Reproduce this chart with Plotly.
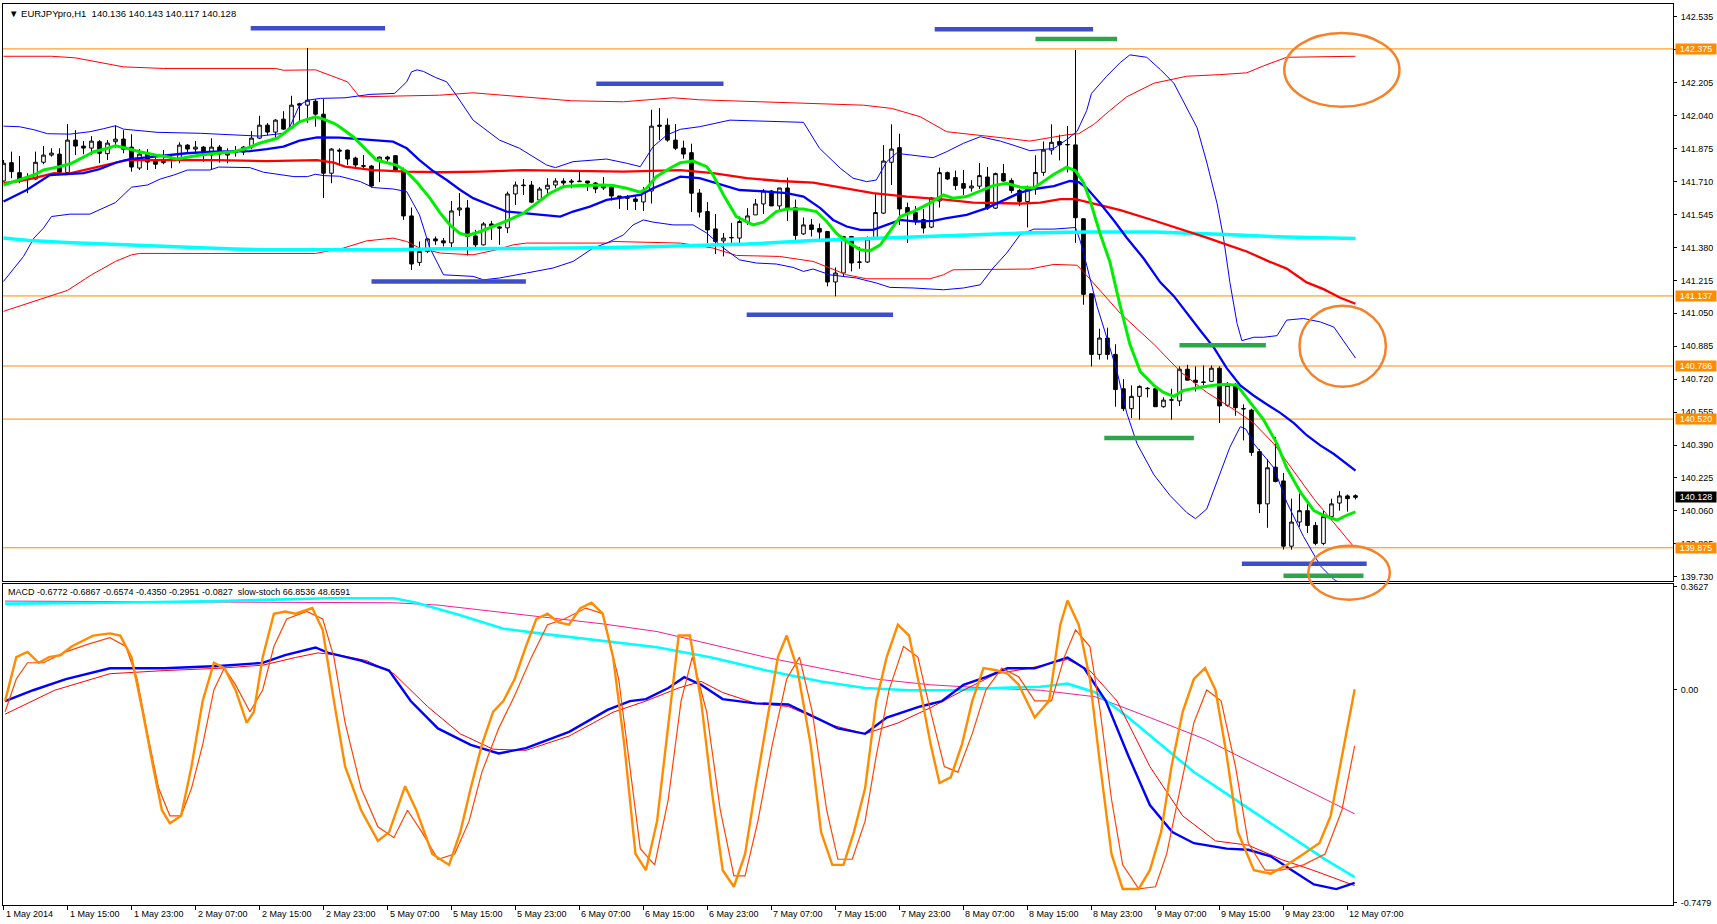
import plotly.graph_objects as go

# ---------------- data ----------------
time_labels = ["1 May 2014", "1 May 15:00", "1 May 23:00", "2 May 07:00", "2 May 15:00", "2 May 23:00",
               "5 May 07:00", "5 May 15:00", "5 May 23:00", "6 May 07:00", "6 May 15:00", "6 May 23:00",
               "7 May 07:00", "7 May 15:00", "7 May 23:00", "8 May 07:00", "8 May 15:00", "8 May 23:00",
               "9 May 07:00", "9 May 15:00", "9 May 23:00", "12 May 07:00"]
label_bars = list(range(0, 169, 8))

# OHLC per H1 bar (bar 0 = 1 May 07:00)
ohlc = [
    (141.713, 141.818, 141.710, 141.802), (141.805, 141.860, 141.727, 141.760), (141.755, 141.838, 141.702, 141.713),
    (141.727, 141.752, 141.652, 141.720), (141.723, 141.860, 141.718, 141.807), (141.807, 141.888, 141.797, 141.843),
    (141.843, 141.877, 141.835, 141.853), (141.848, 141.877, 141.752, 141.757), (141.755, 141.998, 141.748, 141.918),
    (141.918, 141.968, 141.843, 141.888), (141.888, 141.913, 141.847, 141.878), (141.878, 141.938, 141.843, 141.913),
    (141.910, 141.918, 141.802, 141.852), (141.850, 141.918, 141.818, 141.903), (141.910, 141.990, 141.880, 141.923),
    (141.923, 141.968, 141.852, 141.872), (141.883, 141.947, 141.760, 141.783), (141.778, 141.873, 141.768, 141.848),
    (141.848, 141.873, 141.768, 141.808), (141.812, 141.830, 141.773, 141.797), (141.805, 141.868, 141.797, 141.812),
    (141.823, 141.843, 141.777, 141.818), (141.823, 141.907, 141.802, 141.893), (141.893, 141.897, 141.852, 141.873),
    (141.873, 141.913, 141.852, 141.883), (141.883, 141.888, 141.810, 141.843), (141.843, 141.927, 141.768, 141.883),
    (141.883, 141.893, 141.805, 141.848), (141.843, 141.877, 141.802, 141.853), (141.855, 141.888, 141.835, 141.863),
    (141.858, 141.888, 141.843, 141.883), (141.883, 141.963, 141.873, 141.928), (141.928, 142.040, 141.923, 141.993),
    (141.993, 142.003, 141.943, 141.958), (141.958, 142.023, 141.923, 142.018), (142.023, 142.063, 141.968, 141.973),
    (141.978, 142.140, 141.973, 142.093), (142.100, 142.105, 142.010, 142.093), (142.093, 142.380, 142.005, 142.118),
    (142.113, 142.123, 141.985, 142.048), (142.048, 142.123, 141.627, 141.752), (141.752, 141.878, 141.702, 141.873),
    (141.868, 141.877, 141.790, 141.863), (141.868, 141.870, 141.793, 141.823), (141.828, 141.835, 141.773, 141.793),
    (141.790, 141.843, 141.773, 141.787), (141.788, 141.793, 141.680, 141.688), (141.813, 141.835, 141.707, 141.833),
    (141.833, 141.840, 141.810, 141.823), (141.840, 141.843, 141.763, 141.768), (141.768, 141.780, 141.518, 141.538),
    (141.538, 141.580, 141.267, 141.297), (141.305, 141.410, 141.288, 141.360), (141.360, 141.427, 141.352, 141.423),
    (141.423, 141.435, 141.393, 141.413), (141.413, 141.427, 141.385, 141.403), (141.403, 141.613, 141.368, 141.563),
    (141.568, 141.653, 141.538, 141.578), (141.578, 141.618, 141.340, 141.435), (141.438, 141.468, 141.382, 141.393),
    (141.393, 141.507, 141.390, 141.498), (141.498, 141.513, 141.418, 141.488), (141.483, 141.488, 141.393, 141.477),
    (141.478, 141.660, 141.452, 141.648), (141.648, 141.710, 141.593, 141.693), (141.693, 141.723, 141.643, 141.690),
    (141.693, 141.713, 141.602, 141.607), (141.618, 141.683, 141.613, 141.673), (141.673, 141.727, 141.643, 141.692),
    (141.693, 141.727, 141.677, 141.713), (141.713, 141.727, 141.677, 141.703), (141.713, 141.723, 141.677, 141.708),
    (141.713, 141.768, 141.710, 141.710), (141.713, 141.713, 141.663, 141.703), (141.703, 141.708, 141.652, 141.673),
    (141.678, 141.733, 141.668, 141.688), (141.683, 141.693, 141.615, 141.638), (141.638, 141.638, 141.573, 141.627),
    (141.630, 141.643, 141.568, 141.627), (141.623, 141.635, 141.568, 141.610), (141.608, 141.683, 141.563, 141.663),
    (141.663, 142.070, 141.600, 141.988), (141.993, 142.078, 141.918, 141.988), (141.993, 142.027, 141.910, 141.918),
    (141.918, 141.998, 141.868, 141.877), (141.878, 141.915, 141.825, 141.848), (141.855, 141.900, 141.557, 141.652),
    (141.653, 141.673, 141.530, 141.557), (141.560, 141.607, 141.402, 141.468), (141.473, 141.547, 141.347, 141.410),
    (141.413, 141.452, 141.335, 141.427), (141.428, 141.503, 141.402, 141.430), (141.427, 141.535, 141.402, 141.510),
    (141.507, 141.577, 141.493, 141.538), (141.543, 141.623, 141.543, 141.598), (141.598, 141.673, 141.548, 141.663),
    (141.663, 141.668, 141.588, 141.588), (141.588, 141.678, 141.563, 141.678), (141.678, 141.730, 141.513, 141.573),
    (141.580, 141.620, 141.410, 141.440), (141.448, 141.530, 141.443, 141.493), (141.493, 141.523, 141.435, 141.470),
    (141.475, 141.500, 141.410, 141.457), (141.460, 141.460, 141.185, 141.207), (141.207, 141.280, 141.135, 141.252),
    (141.252, 141.438, 141.235, 141.435), (141.435, 141.435, 141.260, 141.302), (141.305, 141.383, 141.273, 141.307),
    (141.307, 141.435, 141.302, 141.423), (141.423, 141.652, 141.418, 141.555), (141.552, 141.893, 141.547, 141.813),
    (141.807, 141.997, 141.693, 141.873), (141.880, 141.950, 141.493, 141.573), (141.580, 141.605, 141.402, 141.552),
    (141.555, 141.588, 141.493, 141.515), (141.520, 141.573, 141.450, 141.477), (141.482, 141.633, 141.477, 141.627),
    (141.613, 141.780, 141.580, 141.755), (141.755, 141.760, 141.718, 141.723), (141.730, 141.765, 141.668, 141.690),
    (141.700, 141.768, 141.643, 141.677), (141.678, 141.717, 141.660, 141.688), (141.687, 141.803, 141.673, 141.740),
    (141.733, 141.783, 141.568, 141.577), (141.577, 141.755, 141.573, 141.750), (141.750, 141.798, 141.710, 141.713),
    (141.715, 141.727, 141.652, 141.665), (141.665, 141.673, 141.587, 141.610), (141.610, 141.690, 141.480, 141.673),
    (141.673, 141.842, 141.644, 141.756), (141.756, 141.911, 141.739, 141.868), (141.868, 141.997, 141.845, 141.907),
    (141.911, 141.945, 141.816, 141.894), (141.894, 141.988, 141.756, 141.896), (141.894, 142.370, 141.403, 141.529),
    (141.524, 141.524, 141.093, 141.145), (141.148, 141.148, 140.784, 140.844), (140.844, 140.973, 140.818, 140.926),
    (140.926, 140.978, 140.818, 140.844), (140.844, 140.895, 140.582, 140.668), (140.672, 140.720, 140.560, 140.572),
    (140.572, 140.689, 140.525, 140.634), (140.634, 140.689, 140.517, 140.684), (140.672, 140.680, 140.629, 140.674),
    (140.672, 140.672, 140.582, 140.582), (140.582, 140.629, 140.577, 140.615), (140.617, 140.672, 140.517, 140.615),
    (140.611, 140.784, 140.586, 140.770), (140.770, 140.792, 140.715, 140.715), (140.715, 140.784, 140.658, 140.703),
    (140.706, 140.789, 140.689, 140.704), (140.709, 140.789, 140.706, 140.775), (140.775, 140.784, 140.500, 140.586),
    (140.589, 140.706, 140.582, 140.689), (140.694, 140.700, 140.537, 140.577), (140.573, 140.594, 140.413, 140.571),
    (140.565, 140.572, 140.336, 140.353), (140.357, 140.370, 140.049, 140.095), (140.095, 140.319, 139.975, 140.276),
    (140.279, 140.431, 140.203, 140.207), (140.210, 140.250, 139.866, 139.883), (139.883, 140.121, 139.866, 140.004),
    (140.004, 140.147, 139.980, 140.061), (140.061, 140.112, 139.949, 139.987), (139.987, 140.004, 139.888, 139.897),
    (139.897, 140.061, 139.888, 140.031), (140.031, 140.121, 140.014, 140.095), (140.099, 140.159, 140.061, 140.135),
    (140.135, 140.142, 140.056, 140.121), (140.136, 140.143, 140.117, 140.128),
]

# indicator lines: (bar, value)
green_ma = [(0,141.693),(2,141.718),(3.8,141.743),(5,141.768),(7,141.785),(8.5,141.802),(10,141.835),(11.3,141.86),(13,141.877),(14,141.89),(15.4,141.877),(17,141.86),(19,141.843),(20.4,141.835),(21.7,141.823),(23,141.832),(24.6,141.843),(26.7,141.852),(28.8,141.86),(30.4,141.877),(32,141.902),(34.2,141.927),(35.8,141.977),(37,142.01),(39,142.035),(40,142.023),(41.3,142.002),(42,141.985),(43.7,141.935),(45.4,141.868),(46.6,141.818),(49.1,141.793),(50.4,141.76),(51.6,141.71),(53.3,141.627),(54.6,141.552),(55.8,141.493),(57,141.452),(58,141.44),(59.6,141.46),(61.2,141.485),(62.9,141.513),(65,141.552),(66.6,141.602),(68.3,141.652),(70,141.685),(72,141.69),(75,141.693),(76.2,141.69),(77.9,141.677),(79.6,141.657),(80.4,141.677),(81.6,141.735),(83.3,141.777),(84.6,141.805),(86.2,141.813),(87.9,141.785),(88.7,141.743),(90,141.643),(91.6,141.535),(93.7,141.493),(95,141.507),(96.6,141.56),(97.9,141.573),(100,141.573),(101.6,141.56),(102.9,141.51),(104.1,141.452),(105.4,141.41),(107.1,141.368),(108.3,141.363),(109.6,141.393),(110.8,141.46),(112.1,141.535),(113.7,141.56),(115.8,141.602),(117.5,141.643),(118.7,141.627),(120.4,141.635),(122.1,141.663),(123.7,141.69),(125.4,141.702),(127.1,141.682),(128.8,141.678),(130,141.713),(131.3,141.747),(132.9,141.782),(134,141.765),(135,141.704),(135.8,141.618),(137.1,141.446),(138.3,141.308),(139.6,141.085),(140.8,140.895),(142.1,140.758),(143.8,140.689),(145,140.654),(146.3,140.634),(147.5,140.663),(149.6,140.68),(151.3,140.689),(152.9,140.694),(154.2,140.689),(155.8,140.603),(157.5,140.517),(159.2,140.396),(160.4,140.276),(162.1,140.155),(163.8,140.061),(165,140.038),(166.7,140.014),(167.9,140.038),(169,140.055)]

blue_ma = [(0,141.61),(2.9,141.668),(5.8,141.743),(7.9,141.747),(10,141.752),(12,141.773),(14.2,141.807),(15.8,141.823),(17.9,141.832),(20.4,141.843),(22.9,141.852),(26.3,141.86),(30.8,141.863),(32.9,141.873),(35,141.885),(37,141.915),(39.2,141.932),(42,141.93),(44.1,141.923),(46.6,141.918),(48.7,141.91),(50.4,141.877),(52,141.818),(53.7,141.763),(55.4,141.718),(57.1,141.668),(58.7,141.627),(60.8,141.593),(62.9,141.56),(65,141.552),(67.1,141.543),(69.6,141.535),(71.2,141.56),(73.3,141.585),(75.4,141.618),(77.5,141.63),(79.6,141.643),(81.2,141.677),(83.7,141.718),(84.6,141.735),(87,141.727),(89.6,141.697),(92,141.668),(95.4,141.66),(97.9,141.652),(100,141.635),(102.1,141.577),(103.7,141.518),(105.4,141.485),(107.1,141.468),(108.7,141.468),(110.4,141.493),(112.1,141.518),(114.1,141.51),(116.2,141.513),(117.9,141.527),(120.4,141.543),(122.9,141.577),(125,141.618),(127.1,141.655),(128.8,141.673),(131.3,141.687),(133.3,141.713),(134.4,141.708),(135.4,141.678),(137.1,141.6),(138.8,141.515),(140.4,141.429),(142.5,141.326),(144.6,141.205),(146.3,141.136),(147.9,141.05),(149.6,140.964),(151.3,140.878),(152.9,140.775),(154.6,140.689),(156.3,140.637),(157.9,140.594),(159.6,140.551),(161.3,140.5),(162.9,140.439),(164.6,140.388),(166.3,140.345),(169,140.262)]

red_ma = [(0,141.702),(2,141.713),(3.8,141.727),(6.3,141.752),(7.9,141.748),(10,141.768),(12,141.785),(14.2,141.807),(15.4,141.818),(20.4,141.818),(26.7,141.818),(32.9,141.813),(37,141.818),(39.2,141.818),(41.3,141.805),(42.7,141.785),(46.2,141.768),(50.4,141.76),(54.6,141.757),(59.6,141.76),(65,141.768),(71.2,141.763),(77.5,141.76),(84.6,141.768),(88.7,141.752),(92.9,141.727),(97,141.713),(101.2,141.705),(105.4,141.677),(108.7,141.652),(112.9,141.635),(117.1,141.622),(121.2,141.605),(127.1,141.6),(129.6,141.605),(132.1,141.622),(134,141.622),(136.3,141.598),(139.6,141.567),(143.8,141.515),(147.9,141.463),(150.4,141.429),(152.9,141.394),(155.4,141.36),(158.3,141.308),(160.4,141.274),(162.9,141.205),(165,141.171),(167.1,141.128),(169,141.098)]

cyan_ma = [(0,141.427),(3.8,141.413),(7.9,141.405),(12,141.398),(16.3,141.39),(20.4,141.382),(24.6,141.377),(28.8,141.372),(32.9,141.368),(40.4,141.368),(42.7,141.372),(48.7,141.368),(54.6,141.373),(62.9,141.373),(71.2,141.377),(79.6,141.382),(84.6,141.387),(92.9,141.397),(101.2,141.415),(109.6,141.427),(117.9,141.438),(127.1,141.452),(135.4,141.458),(143.8,141.458),(152.1,141.446),(160.4,141.432),(169,141.425)]

red_band_up = [(0,142.338),(6,142.338),(9,142.33),(15,142.285),(20,142.277),(34,142.277),(35,142.268),(39,142.27),(41,142.24),(43,142.21),(44.5,142.135),(54.5,142.143),(58.7,142.155),(65,142.135),(71,142.115),(77.5,142.11),(83.7,142.13),(87,142.12),(94.6,142.11),(107.5,142.093),(111,142.077),(114.6,142.035),(117.9,141.96),(122,141.943),(125.4,141.927),(128.3,141.913),(133,141.945),(134.4,141.95),(136.3,141.997),(138.3,142.066),(140.4,142.135),(143.8,142.203),(147.9,142.238),(152,142.246),(155.4,142.255),(157.5,142.29),(160.4,142.333),(169,142.338)]

red_band_dn = [(0,141.06),(8,141.165),(11,141.243),(14,141.31),(16,141.343),(17,141.35),(39,141.35),(42.5,141.377),(45.4,141.413),(48.7,141.427),(50.4,141.41),(52,141.377),(54.6,141.352),(58.7,141.343),(61.6,141.368),(63.7,141.393),(65.4,141.402),(75.4,141.402),(76.2,141.41),(84.6,141.402),(88.7,141.377),(91.6,141.34),(97,141.335),(101.2,141.31),(103.3,141.277),(105.4,141.243),(107.9,141.223),(115.8,141.223),(117.5,141.243),(118.7,141.268),(128.3,141.272),(131.3,141.295),(134.2,141.291),(135.4,141.24),(139.6,141.05),(143.8,140.895),(147.1,140.758),(150.4,140.654),(153.8,140.568),(156.3,140.5),(158.8,140.396),(161.3,140.258),(163.8,140.12),(166.3,140.0),(168.8,139.88)]

blue_band_up = [(0,141.988),(2,141.985),(3.8,141.97),(5.5,141.95),(8.3,141.948),(10.8,141.96),(12.5,141.975),(14,141.99),(15,141.973),(17.5,141.963),(19.2,141.957),(24.6,141.952),(30.8,141.943),(32,141.938),(35,141.952),(35.8,141.985),(37,142.093),(38,142.118),(39.6,142.127),(42.7,142.13),(45.8,142.147),(48.9,142.152),(50.4,142.21),(51,142.26),(51.7,142.27),(52.5,142.262),(54,142.232),(55.4,142.21),(56.6,142.143),(58.7,142.018),(62,141.918),(64.5,141.877),(67.9,141.793),(69,141.78),(71.2,141.81),(75.4,141.823),(77.9,141.802),(79.6,141.785),(81.2,141.885),(82.9,141.943),(84.6,141.972),(87,141.985),(90.8,142.018),(95,142.013),(100,142.007),(102,141.877),(104.6,141.777),(106.2,141.727),(107.9,141.71),(109.1,141.718),(110.4,141.81),(111.6,141.852),(113.7,141.843),(116.2,141.83),(117.9,141.86),(120,141.902),(122.1,141.935),(124.6,141.913),(126.2,141.893),(128.3,141.865),(131.3,141.876),(132.9,141.92),(134.2,141.962),(135.4,142.066),(136,142.152),(137.9,142.238),(139.6,142.307),(140.8,142.345),(142.9,142.333),(144.6,142.272),(146.3,142.203),(147.9,142.083),(149.2,141.98),(150.4,141.808),(151.7,141.6),(152.5,141.429),(153.3,141.205),(154.2,140.999),(154.8,140.913),(156.3,140.93),(157.5,140.93),(159.2,140.938),(160.4,141.016),(162.5,141.024),(164.6,141.007),(166.3,140.981),(169,140.826)]

blue_band_dn = [(0,141.21),(2.5,141.335),(3.8,141.427),(5,141.477),(6,141.535),(8.3,141.547),(10.8,141.547),(12,141.568),(14,141.605),(16,141.682),(18,141.693),(19.6,141.723),(21.3,141.743),(23,141.768),(25.8,141.768),(26.9,141.783),(30.8,141.78),(32.5,141.757),(36.3,141.735),(38,141.735),(39,141.747),(40,141.74),(42,141.737),(44.6,141.71),(46.2,141.68),(48.7,141.673),(50.4,141.66),(52,141.543),(53.3,141.377),(55,141.243),(58.7,141.235),(60,141.218),(62,141.227),(65.4,141.252),(68.7,141.277),(71.2,141.31),(73.7,141.377),(75.4,141.402),(77.5,141.443),(78.7,141.493),(80,141.518),(81.2,141.507),(83.7,141.493),(86.2,141.493),(87.9,141.452),(90,141.377),(92,141.318),(94.1,141.302),(96.6,141.297),(98.7,141.28),(100,141.26),(101.2,141.272),(103.3,141.243),(106.6,141.227),(109.1,141.202),(110.8,141.18),(113.7,141.177),(117.5,141.168),(120,141.177),(122.1,141.193),(123.7,141.277),(125.4,141.352),(127.1,141.445),(128.8,141.472),(131.3,141.472),(134,141.48),(134.6,141.412),(135.4,141.291),(136.7,141.085),(137.9,140.93),(139.2,140.758),(140.4,140.551),(141.7,140.396),(143.8,140.241),(145.8,140.138),(147.9,140.052),(149,140.021),(150.4,140.069),(151.7,140.207),(153.3,140.379),(154.6,140.482),(155.3,140.47),(156.3,140.396),(158.8,140.276),(160.4,140.104),(162.5,139.932),(164.6,139.785),(166.3,139.716),(167.5,139.69)]

# horizontal levels
level_prices = [142.375, 141.137, 140.786, 140.520, 139.875]
last_close = 140.128
price_ticks = [142.535, 142.370, 142.205, 142.040, 141.875, 141.710, 141.545, 141.380, 141.215,
               141.050, 140.885, 140.720, 140.555, 140.390, 140.225, 140.060, 139.895, 139.730]

# drawn marker segments: (start bar, end bar, price)
blue_segments = [(30.9, 47.7, 142.478), (74.1, 90.0, 142.20), (116.4, 136.2, 142.473),
                 (46.0, 65.3, 141.21), (92.9, 111.2, 141.043), (154.8, 170.4, 139.795)]
green_segments = [(129.0, 139.2, 142.424), (147.0, 157.8, 140.89), (137.6, 148.8, 140.425), (160.0, 170.0, 139.735)]

# ellipses: (bar0, bar1, price0, price1)
ellipses = [(160.1, 174.5, 142.085, 142.455), (162.0, 172.8, 140.6825, 141.0875), (163.1, 173.3, 139.615, 139.885)]

# MACD window: (bar, value)
macd_blue = [(0.2,-0.039),(3.7,-0.001),(7.8,0.038),(13.3,0.076),(20.1,0.076),(26.9,0.084),(32.4,0.095),(35.2,0.122),(39,0.149),(40.6,0.13),(44.7,0.103),(48.2,0.068),(50.9,-0.039),(54.3,-0.135),(58.4,-0.193),(61.9,-0.223),(65.3,-0.204),(70.7,-0.147),(75.5,-0.07),(78.3,-0.039),(80.3,-0.032),(83.1,0.007),(85.1,0.045),(87.2,0.018),(89.9,-0.032),(94,-0.047),(98.1,-0.051),(100.9,-0.089),(104.3,-0.135),(107.7,-0.154),(110.4,-0.097),(114.6,-0.058),(117.3,-0.039),(120,0.018),(122.8,0.045),(125.5,0.076),(128.9,0.076),(133,0.114),(135.1,0.076),(137.8,-0.039),(140.6,-0.231),(143.3,-0.404),(146.1,-0.499),(148.8,-0.538),(152.9,-0.557),(155.6,-0.561),(158.4,-0.584),(161.1,-0.634),(163.8,-0.683),(166.6,-0.699),(168.9,-0.677)]
macd_red = [(0.2,-0.085),(6.4,-0.001),(13.3,0.057),(20.1,0.068),(26.9,0.076),(32.4,0.087),(36.5,0.114),(39.3,0.13),(42,0.122),(45.4,0.103),(48.8,0.057),(53,-0.058),(57.1,-0.154),(61.2,-0.208),(65.3,-0.212),(70.7,-0.162),(76.2,-0.078),(80.3,-0.039),(84.4,0.007),(87.2,0.03),(89.9,-0.009),(94,-0.047),(98.1,-0.058),(103.6,-0.124),(107.7,-0.154),(111.8,-0.116),(115.9,-0.062),(120,-0.001),(124.1,0.057),(128.2,0.076),(133,0.107),(135.8,0.068),(139.2,-0.039),(143.3,-0.269),(147.4,-0.442),(151.5,-0.53),(155.6,-0.545),(159.7,-0.595),(163.8,-0.634),(167.3,-0.672),(168.9,-0.687)]
macd_cyan = [(0.2,0.303),(13.3,0.306),(26.9,0.312),(40.6,0.322),(48.8,0.322),(51.6,0.306),(57.1,0.262),(62.5,0.215),(68,0.195),(74.9,0.172),(81.7,0.15),(88.5,0.114),(95.4,0.068),(102.2,0.03),(107.7,0.007),(113.2,-0.001),(118.7,-0.001),(124.1,0.007),(129.6,0.011),(133,0.022),(136.5,-0.009),(140.6,-0.097),(144.7,-0.193),(148.8,-0.288),(152.9,-0.365),(157,-0.442),(161.1,-0.519),(165.2,-0.595),(168.9,-0.657)]
macd_magenta = [(0.2,0.312),(13.3,0.31),(26.9,0.309),(40.6,0.307),(48.8,0.306),(54.3,0.298),(61.2,0.275),(68,0.255),(74.9,0.232),(81.7,0.205),(88.5,0.16),(95.4,0.114),(102.2,0.076),(109.1,0.038),(115.9,0.018),(122.8,0.007),(129.6,-0.001),(136.5,-0.024),(143.3,-0.097),(150.2,-0.173),(157,-0.269),(163.8,-0.365),(168.9,-0.435)]
stoch_k = [(0.2,63.1),(1.6,77.1),(3,78.8),(4.4,75.3),(5.7,77.1),(7.1,77.7),(8.5,80.5),(9.8,82.3),(11.2,84.0),(13.3,84.7),(14.6,84.0),(16,77.1),(17.4,59.6),(18.7,42.1),(19.8,28.1),(20.8,23.9),(22.2,26.3),(23.5,42.1),(24.9,63.1),(26.3,75.3),(27.6,73.6),(29,66.6),(30.4,56.1),(31.3,59.6),(32.4,77.1),(33.8,91.0),(35.2,91.7),(36.5,91.0),(38.6,92.8),(39.9,85.8),(41.3,63.1),(42.7,42.1),(44.7,28.1),(46.8,18.3),(48.2,21.1),(50.2,35.8),(51.6,28.1),(53.6,14.1),(55.7,10.6),(57.1,21.1),(58.4,35.1),(59.8,49.1),(61.2,59.6),(62.5,63.1),(63.9,70.1),(65.3,80.5),(66.6,89.3),(68,91.0),(69.4,88.2),(70.7,87.5),(72.1,92.8),(73.5,94.5),(74.9,91.0),(76.2,77.1),(77.6,49.1),(79,14.1),(80.3,8.9),(81.7,24.6),(83.1,56.1),(84.4,84.0),(85.8,84.0),(87.2,63.1),(88.5,35.1),(89.9,8.9),(91.3,3.6),(92.7,14.1),(94,35.1),(95.4,56.1),(96.8,77.1),(97.9,84.0),(99.2,73.6),(100.9,49.1),(102.2,21.1),(103.6,10.6),(105,10.6),(106.3,21.1),(107.7,35.1),(109.1,63.1),(110.4,77.1),(111.8,87.5),(113.2,84.0),(114.6,66.6),(115.9,49.1),(117,36.8),(118.4,38.6),(119.8,49.1),(121.1,63.1),(122.5,73.6),(124.1,72.9),(125.5,71.8),(126.9,68.3),(128.9,57.8),(130.7,63.1),(132.1,87.5),(133,95.2),(134.4,87.5),(135.8,70.1),(137.1,42.1),(138.5,14.1),(139.9,2.9),(141.9,2.9),(143.3,8.9),(144.7,21.1),(146,42.1),(147.4,59.6),(148.8,70.1),(150.2,73.6),(151.5,66.6),(152.9,45.6),(154.3,21.1),(156.3,8.9),(158.4,7.8),(160.4,10.6),(162.5,14.1),(164.5,17.6),(165.9,26.3),(167.3,45.6),(168.9,66.85)]
stoch_d = [(0.2,59.6),(1.6,70.1),(3,75.3),(5,75.3),(7.8,78.8),(10.5,81.2),(13.3,83.3),(15.3,80.5),(16.7,70.1),(18,52.6),(19.4,35.1),(20.8,26.3),(22.2,26.3),(23.5,35.1),(24.9,49.1),(26.3,66.6),(27.6,73.6),(29,68.3),(30.8,59.6),(32.4,66.6),(33.8,80.5),(35.4,89.3),(37.9,91.7),(39.9,89.3),(41.3,77.1),(42.7,56.1),(44.7,35.1),(46.8,22.8),(48.8,19.3),(50.5,28.1),(52.3,21.1),(54.3,12.4),(56.4,14.1),(58.2,24.6),(59.8,40.3),(61.9,54.3),(63.9,64.8),(66,77.1),(68,87.5),(70.1,89.3),(72.8,92.8),(74.9,91.0),(76.9,70.1),(78.3,42.1),(79.6,15.8),(81.4,10.6),(83.1,31.6),(84.7,63.1),(86.1,77.1),(87.9,59.6),(89.6,28.1),(91.3,7.1),(92.7,7.1),(94.3,24.6),(96.1,49.1),(97.9,70.1),(99.5,77.1),(101.1,59.6),(102.9,28.1),(104.3,12.4),(106.1,12.4),(107.7,24.6),(109.1,45.6),(110.7,66.6),(112.5,80.5),(114.3,77.1),(115.9,59.6),(117.6,42.1),(119.3,40.3),(121.1,52.6),(122.8,66.6),(124.8,73.6),(126.9,70.8),(128.9,63.1),(131,63.1),(132.6,77.1),(134,85.8),(135.8,80.5),(137.1,59.6),(138.5,31.6),(139.9,10.6),(141.9,2.9),(144,3.6),(145.4,14.1),(147.1,35.1),(148.8,56.1),(150.4,66.6),(152.2,63.1),(154,42.1),(155.6,17.6),(157.7,8.9),(159.7,8.9),(162.5,10.6),(165.2,14.1),(167.3,28.1),(168.9,48.66)]

header_main = "EURJPYpro,H1&nbsp; 140.136 140.143 140.117 140.128"
header_sub = "MACD -0.6772 -0.6867 -0.6574 -0.4350 -0.2951 -0.0827&nbsp; slow-stoch 66.8536 48.6591"

# ---------------- layout constants ----------------
W, H = 1717, 924
main_dom = [0.35991, 1.0]
sub_dom = [0.0, 0.35659]
x_range = [-0.0625, 208.69]
price_range = [139.71, 142.60]
macd_range = [-0.755, 0.373]
stoch_range = [-2.24, 100.6]
FONT = "Liberation Sans, Arial, sans-serif"

fig = go.Figure()
bars = list(range(len(ohlc)))
fig.add_trace(go.Candlestick(
    x=bars, open=[c[0] for c in ohlc], high=[c[1] for c in ohlc],
    low=[c[2] for c in ohlc], close=[c[3] for c in ohlc],
    increasing=dict(line=dict(color="black", width=1), fillcolor="white"),
    decreasing=dict(line=dict(color="black", width=1), fillcolor="black"),
    whiskerwidth=0, xaxis="x", yaxis="y", showlegend=False, hoverinfo="skip"))


def add_line(pairs, color, width, xa="x", ya="y"):
    fig.add_trace(go.Scatter(x=[p[0] for p in pairs], y=[p[1] for p in pairs], mode="lines",
                             line=dict(color=color, width=width), xaxis=xa, yaxis=ya,
                             showlegend=False, hoverinfo="skip"))


add_line(red_band_up, "red", 1)
add_line(red_band_dn, "red", 1)
add_line(blue_band_up, "blue", 1)
add_line(blue_band_dn, "blue", 1)
add_line(cyan_ma, "#00ffff", 3.5)
add_line(red_ma, "red", 2.3)
add_line(blue_ma, "blue", 2.3)
add_line(green_ma, "#00ee00", 3)

for b0, b1, p in blue_segments:
    add_line([(b0, p), (b1, p)], "rgb(62,78,200)", 4.5)
for b0, b1, p in green_segments:
    add_line([(b0, p), (b1, p)], "rgb(45,165,75)", 4.5)

add_line(macd_magenta, "rgb(240,30,150)", 1, "x2", "y2")
add_line(macd_cyan, "#00ffff", 2.6, "x2", "y2")
add_line(macd_red, "red", 1, "x2", "y2")
add_line(macd_blue, "blue", 2.4, "x2", "y2")
add_line(stoch_d, "rgb(255,70,0)", 1.2, "x2", "y3")
add_line(stoch_k, "rgb(255,140,0)", 2.4, "x2", "y3")

shapes = []
for p in level_prices:
    shapes.append(dict(type="line", xref="x", yref="y", x0=x_range[0], x1=x_range[1], y0=p, y1=p,
                       line=dict(color="rgb(255,140,0)", width=1), layer="below"))


def price_to_paper(p):
    return main_dom[0] + (p - price_range[0]) / (price_range[1] - price_range[0]) * (main_dom[1] - main_dom[0])


for b0, b1, p0, p1 in ellipses:
    shapes.append(dict(type="circle", xref="x", yref="paper", x0=b0, x1=b1,
                       y0=price_to_paper(p0), y1=price_to_paper(p1),
                       line=dict(color="rgb(245,130,40)", width=2.5), layer="above"))

annotations = []
for p in level_prices:
    annotations.append(dict(x=1, xref="paper", xanchor="left", xshift=2, y=p, yref="y",
                            text=f"{p:.3f}", showarrow=False, bgcolor="rgb(255,140,0)",
                            font=dict(family=FONT, size=9, color="white"), width=40, height=10,
                            borderpad=0))
annotations.append(dict(x=1, xref="paper", xanchor="left", xshift=2, y=last_close, yref="y",
                        text=f"{last_close:.3f}", showarrow=False, bgcolor="black",
                        font=dict(family=FONT, size=9, color="white"), width=40, height=10, borderpad=0))
for b, t in zip(label_bars, time_labels):
    annotations.append(dict(x=b, xref="x2", xanchor="left", y=0, yref="paper", yanchor="top", yshift=-2,
                            text=t, showarrow=False, font=dict(family=FONT, size=9, color="black")))
annotations.append(dict(x=0, xref="paper", xanchor="left", xshift=4, y=1, yref="paper", yanchor="top",
                        yshift=-2, text="\u25bc " + header_main, showarrow=False,
                        font=dict(family=FONT, size=9.5, color="black")))
annotations.append(dict(x=0, xref="paper", xanchor="left", xshift=3, y=sub_dom[1], yref="paper",
                        yanchor="top", yshift=-1, text=header_sub, showarrow=False,
                        font=dict(family=FONT, size=9, color="black")))

axis_common = dict(showgrid=False, zeroline=False, showline=True, linecolor="black", linewidth=1,
                   mirror=True)
fig.update_layout(
    width=W, height=H, autosize=False,
    margin=dict(l=3, r=44, t=2, b=19, pad=0),
    paper_bgcolor="white", plot_bgcolor="white",
    hovermode=False, boxgap=0.35,
    xaxis=dict(domain=[0, 1], anchor="y", range=x_range, showticklabels=False, ticks="",
               rangeslider=dict(visible=False), **axis_common),
    yaxis=dict(domain=main_dom, anchor="x", range=price_range, side="right", ticks="outside", ticklen=3,
               tickcolor="black", tickvals=price_ticks, ticktext=[f"{v:.3f}" for v in price_ticks],
               tickfont=dict(family=FONT, size=9, color="black"), ticklabelstandoff=2, **axis_common),
    xaxis2=dict(domain=[0, 1], anchor="y2", range=x_range, showticklabels=False, ticks="outside",
                ticklen=4, tickcolor="black", tickvals=label_bars, **axis_common),
    yaxis2=dict(domain=sub_dom, anchor="x2", range=macd_range, side="right", ticks="outside", ticklen=3,
                tickcolor="black", tickvals=[0.3627, 0.0, -0.7479], ticktext=["0.3627", "0.00", "-0.7479"],
                tickfont=dict(family=FONT, size=9, color="black"), ticklabelstandoff=2, **axis_common),
    yaxis3=dict(overlaying="y2", anchor="x2", range=stoch_range, visible=False),
    shapes=shapes, annotations=annotations,
)

fig.write_html("out.html", config={"displayModeBar": False},
               post_script="document.body.style.margin='0';document.body.style.overflow='hidden';")
